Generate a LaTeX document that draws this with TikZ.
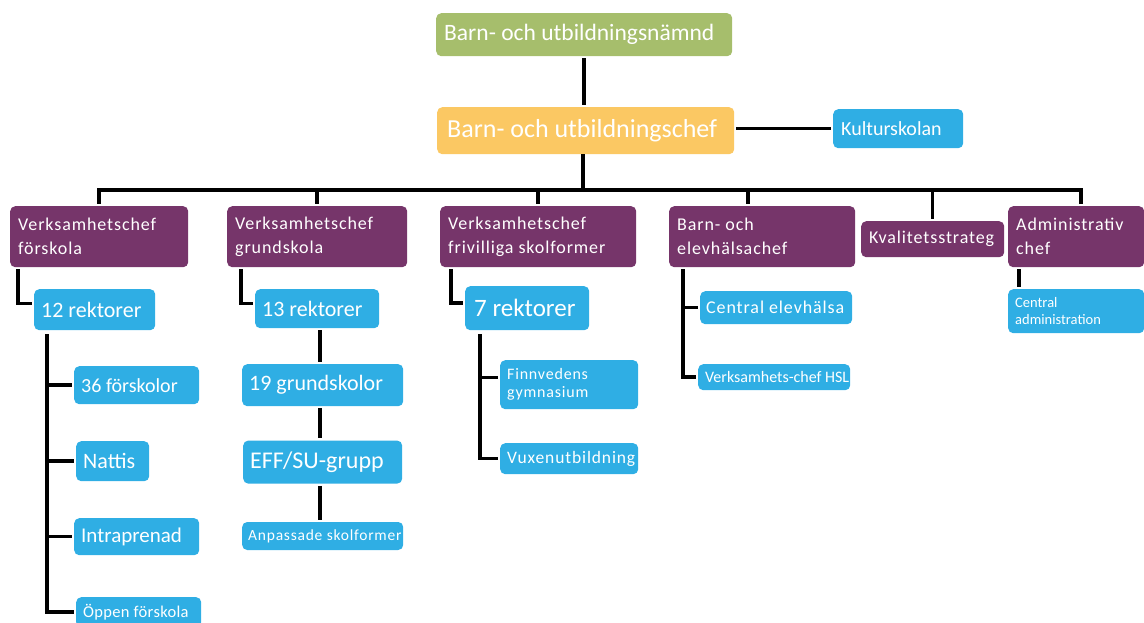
\documentclass[tikz,border=0pt]{standalone}
\usepackage{fontspec}
\setmainfont{Carlito}
\newfontfamily\spaced{Carlito}[LetterSpace=5]
\newfontfamily\lightspaced{Carlito}[LetterSpace=2]
\usetikzlibrary{positioning}
\definecolor{boardgreen}{HTML}{A6BE6C}
\definecolor{chiefyellow}{HTML}{FBC863}
\definecolor{headpurple}{HTML}{76356A}
\definecolor{unitblue}{HTML}{2FAEE4}

\begin{document}
\begin{tikzpicture}[x=1pt, y=-1pt]
    \tikzstyle{unit} = [rounded corners=5pt, anchor=north west, inner xsep=8pt, inner ysep=0pt, align=flush left, text=white]
    \tikzstyle{head} = [unit, fill=headpurple, minimum height=61pt, font=\fontsize{18}{24}\selectfont\spaced]
    \tikzstyle{team} = [unit, fill=unitblue, inner xsep=7pt]
    \tikzstyle{link} = [line width=3.5pt, shorten <=2pt, shorten >=2pt]
    \tikzstyle{branch} = [line width=3.5pt, shorten >=2pt]
    \useasboundingbox (0,0) rectangle (1144,623);
    % top
    \node [unit, fill=boardgreen, text width=280pt, minimum height=43pt, font=\fontsize{23.5}{28}\selectfont] at (436,13) (1) {Barn- och utbildningsnämnd};
    \node [unit, fill=chiefyellow, inner xsep=10pt, text width=277pt, minimum height=47pt, font=\fontsize{26}{30}\selectfont] at (437,107) (2) {Barn- och utbildningschef};
    \node [team, inner xsep=8pt, text width=114pt, minimum height=39pt, font=\fontsize{20}{24}\selectfont] at (833,109) (3) {Kulturskolan};
    % chefs
    \node [head, text width=162pt] at (10,206) (11) {Verksamhetschef\\förskola};
    \node [head, text width=164pt] at (227,206) (12) {Verksamhetschef\\grundskola};
    \node [head, text width=180pt] at (440,206) (13) {Verksamhetschef\\frivilliga skolformer};
    \node [head, text width=170pt] at (669,206) (14) {Barn- och\\elevhälsachef};
    \node [head, text width=127pt, minimum height=36pt] at (861,221) (15) {Kvalitetsstrateg};
    \node [head, text width=120pt] at (1008,206) (16) {Administrativ\\chef};
    % second level
    \node [team, text width=107pt, minimum height=41pt, font=\fontsize{22}{26}\selectfont] at (34,289) (21) {12 rektorer};
    \node [team, text width=110pt, minimum height=39pt, font=\fontsize{22}{26}\selectfont] at (255,289) (22) {13 rektorer};
    \node [team, inner xsep=9pt, text width=106pt, minimum height=44pt, font=\fontsize{25}{28}\selectfont] at (465,286) (23) {7 rektorer};
    \node [team, inner xsep=6pt, text width=140pt, minimum height=33pt, font=\fontsize{18}{22}\selectfont\spaced] at (700,291) (24) {\mbox{Central elevhälsa}};
    \node [team, text width=122pt, minimum height=44pt, font=\fontsize{14.5}{16.5}\selectfont] at (1008,289) (25) {Central\\administration};
    \node [team, text width=138pt, minimum height=26pt, font=\fontsize{16}{18}\selectfont] at (698,364) (26) {\mbox{Verksamhets-chef HSL}};
    % förskola
    \node [team, text width=111pt, minimum height=38pt, font=\fontsize{20}{24}\selectfont] at (74,366) (31) {36 förskolor};
    \node [team, text width=59pt, minimum height=40pt, font=\fontsize{22}{26}\selectfont] at (76,441) (32) {Nattis};
    \node [team, text width=111pt, minimum height=37pt, font=\fontsize{21}{25}\selectfont] at (74,518) (33) {Intraprenad};
    \node [team, text width=111pt, minimum height=30pt, font=\fontsize{16.5}{20}\selectfont\lightspaced] at (76,597) (34) {\mbox{Öppen förskola}};
    % grundskola
    \node [team, text width=147pt, minimum height=42pt, font=\fontsize{22}{26}\selectfont] at (242,364) (41) {19 grundskolor};
    \node [team, text width=145pt, minimum height=43pt, font=\fontsize{24}{28}\selectfont, below=34pt of 41] (42) {EFF/SU-grupp};
    \node [team, inner xsep=6pt, text width=149pt, minimum height=28pt, font=\fontsize{15.5}{18}\selectfont\spaced, below=38pt of 42] (43) {\mbox{Anpassade skolformer}};
    % frivilliga skolformer
    \node [team, text width=124pt, minimum height=49pt, font=\fontsize{16}{18}\selectfont\spaced] at (500,360) (51) {Finnvedens\\gymnasium};
    \node [team, text width=124pt, minimum height=31pt, font=\fontsize{17.5}{20}\selectfont\spaced] at (500,443) (52) {\mbox{Vuxenutbildning}};

    % connectors
    \coordinate (bus) at (583,190);
    \coordinate (d14) at ([xshift=-14pt]14.north);
    \coordinate (d16) at ([xshift=5pt]16.north);
    \draw[link] (1.south) -- (1.south |- 2.north);
    \draw[link] (2.east |- 3.west) -- (3.west);
    \draw[branch] (2.south -| bus) -- (bus);
    \draw[link] (11.north) |- (d16 |- bus) -- (d16);
    \foreach \n in {12,13,15}
        \draw[branch] (\n.north |- bus) -- (\n.north);
    \draw[branch] (d14 |- bus) -- (d14);
    \draw[link] ([xshift=8pt]11.south west) |- ([yshift=6pt]21.west);
    \draw[link] ([xshift=14pt]12.south west) |- ([yshift=5pt]22.west);
    \draw[link] ([xshift=11pt]13.south west) |- ([yshift=5pt]23.west);
    \draw[link] ([xshift=11pt]16.south west) -- ([xshift=11pt]25.north west);
    % förskola column
    \coordinate (c1) at ([xshift=13pt]21.south west);
    \draw[link, shorten <=4pt] (c1) |- (34.west);
    \foreach \n in {31,32,33}
        \draw[branch] (c1 |- \n.west) -- (\n.west);
    % grundskola column
    \coordinate (c2) at ([xshift=3pt]22.south);
    \draw[link] (c2) -- (c2 |- 41.north);
    \draw[link] (c2 |- 41.south) -- (c2 |- 42.north);
    \draw[link] (c2 |- 42.south) -- (c2 |- 43.north);
    % frivilliga column
    \coordinate (c3) at ([xshift=15pt]23.south west);
    \coordinate (f51) at ([yshift=7pt]51.west);
    \draw[link, shorten <=4pt] (c3) |- (52.west);
    \draw[branch] (c3 |- f51) -- (f51);
    % elevhälsa column
    \coordinate (c4) at ([xshift=14pt]14.south west);
    \draw[link] (c4) |- (26.west);
    \draw[branch] (c4 |- 24.west) -- (24.west);
\end{tikzpicture}
\end{document}
